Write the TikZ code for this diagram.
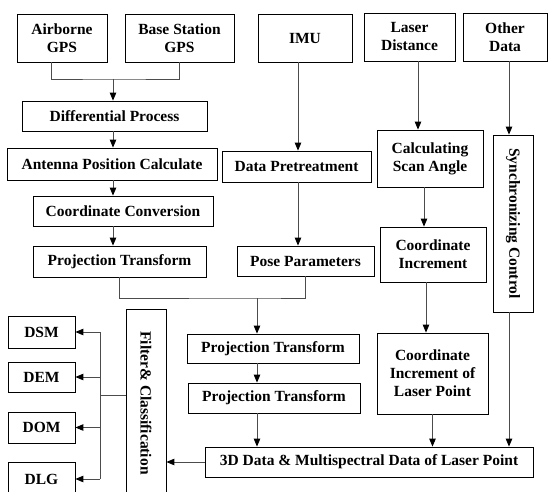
\documentclass[tikz,border=0pt]{standalone}
\usepackage{fontspec}
\setmainfont{Liberation Serif}
\usetikzlibrary{arrows.meta}
\tikzset{
    flow-box/.style = {draw=black, fill=white, line width=0.8pt, rectangle, inner sep=2pt, align=center, font=\bfseries\fontsize{15.5}{18}\selectfont},
    flow-line/.style = {draw=black!70, line width=0.9pt},
    flow-arrow/.style = {flow-line, -{Triangle[length=8pt,width=6.5pt,color=black]}},
}

\begin{document}
\begin{tikzpicture}[x=1pt, y=-1pt]
\useasboundingbox (0,0) rectangle (549,492);
\clip (0,0) rectangle (549,492);

\node[flow-box, minimum width=90pt, minimum height=48pt] (airborne) at (62,38) {Airborne\\GPS};
\node[flow-box, minimum width=109pt, minimum height=48pt] (base) at (179.5,38) {Base Station\\GPS};
\node[flow-box, minimum width=94pt, minimum height=48pt] (imu) at (305,38) {IMU};
\node[flow-box, minimum width=91pt, minimum height=48pt] (laser) at (409.5,37) {Laser\\Distance};
\node[flow-box, minimum width=84pt, minimum height=48pt] (other) at (505,37) {Other\\Data};

\node[flow-box, minimum width=185pt, minimum height=30pt] (diff) at (114.5,116) {Differential Process};
\node[flow-box, minimum width=210pt, minimum height=32pt] (antenna) at (112,164) {Antenna Position Calculate};
\node[flow-box, minimum width=180pt, minimum height=30pt] (coordconv) at (123,211) {Coordinate Conversion};
\node[flow-box, minimum width=173pt, minimum height=31pt] (projleft) at (119.5,261.5) {Projection Transform};

\node[flow-box, minimum width=149pt, minimum height=31pt] (pretreat) at (296.5,166.5) {Data Pretreatment};
\node[flow-box, minimum width=137pt, minimum height=30pt] (pose) at (305.5,261) {Pose Parameters};

\node[flow-box, minimum width=106pt, minimum height=57pt] (scan) at (430,158.5) {Calculating\\Scan Angle};
\node[flow-box, minimum width=106pt, minimum height=55pt] (coordinc) at (433,254.5) {Coordinate\\Increment};
\node[flow-box, minimum width=111pt, minimum height=81pt] (cilp) at (432.5,373.5) {Coordinate\\Increment of\\Laser Point};
\node[flow-box, minimum width=40pt, minimum height=177pt] (sync) at (513,223.5) {\rotatebox{-90}{Synchronizing Control}};

\node[flow-box, minimum width=172pt, minimum height=29pt] (proj1) at (273,348.5) {Projection Transform};
\node[flow-box, minimum width=172pt, minimum height=30pt] (proj2) at (274,398) {Projection Transform};
\node[flow-box, minimum width=328pt, minimum height=30pt] (data3d) at (369,462) {3D Data \& Multispectral Data of Laser Point};

\node[flow-box, minimum width=40pt, minimum height=188pt] (filter) at (146,403) {\rotatebox{-90}{Filter\& Classification}};
\node[flow-box, minimum width=67pt, minimum height=32pt] (dsm) at (41.5,332) {DSM};
\node[flow-box, minimum width=67pt, minimum height=30pt] (dem) at (41.5,377) {DEM};
\node[flow-box, minimum width=67pt, minimum height=31pt] (dom) at (41.5,427.5) {DOM};
\node[flow-box, minimum width=67pt, minimum height=34pt] (dlg) at (41.5,479) {DLG};

\coordinate (gps-join) at (113,79);
\coordinate (pose-join) at (257,298);
\coordinate (out-join) at (100,395);
\coordinate (imu-lane) at (298,0);
\coordinate (laser-lane) at (418,0);
\coordinate (sync-lane) at (509,0);

\draw[flow-line] ([xshift=-11pt]airborne.south) |- (gps-join) -| (base.south);
\draw[flow-arrow] (gps-join) -- (gps-join |- diff.north);
\draw[flow-arrow] (diff.south -| gps-join) -- (antenna.north -| gps-join);
\draw[flow-arrow] (antenna.south -| gps-join) -- (coordconv.north -| gps-join);
\draw[flow-arrow] (coordconv.south -| gps-join) -- (projleft.north -| gps-join);

\draw[flow-arrow] (imu.south -| imu-lane) -- (pretreat.north -| imu-lane);
\draw[flow-arrow] (pretreat.south -| imu-lane) -- (pose.north -| imu-lane);

\draw[flow-line] (projleft.south) |- (pose-join) -| (pose.south);
\draw[flow-arrow] (pose-join) -- (pose-join |- proj1.north);
\draw[flow-arrow] (proj1.south -| pose-join) -- (proj2.north -| pose-join);
\draw[flow-arrow] (proj2.south -| pose-join) -- (data3d.north -| pose-join);

\draw[flow-arrow] (laser.south -| laser-lane) -- (scan.north -| laser-lane);
\draw[flow-arrow] ([xshift=-6pt]scan.south) -- ([xshift=-6pt]scan.south |- coordinc.north);
\draw[flow-arrow] ([xshift=-7pt]coordinc.south) -- ([xshift=-7pt]coordinc.south |- cilp.north);
\draw[flow-arrow] (cilp.south) -- (cilp.south |- data3d.north);

\draw[flow-arrow] (other.south -| sync-lane) -- (sync.north -| sync-lane);
\draw[flow-arrow] (sync.south -| sync-lane) -- (data3d.north -| sync-lane);

\draw[flow-arrow] (data3d.west) -- (data3d.west -| filter.east);
\draw[flow-line] (filter.west |- out-join) -- (out-join);
\draw[flow-line] (out-join |- dsm.east) -- (out-join |- dlg.east);
\draw[flow-arrow] (out-join |- dsm.east) -- (dsm.east);
\draw[flow-arrow] (out-join |- dem.east) -- (dem.east);
\draw[flow-arrow] (out-join |- dom.east) -- (dom.east);
\draw[flow-arrow] (out-join |- dlg.east) -- (dlg.east);
\end{tikzpicture}
\end{document}
